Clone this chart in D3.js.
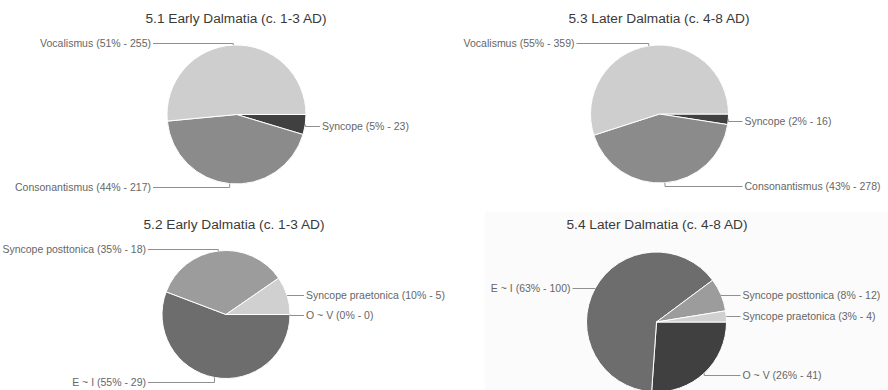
<!DOCTYPE html>
<html>
<head>
<meta charset="utf-8">
<script src="https://cdn.jsdelivr.net/npm/d3@7/dist/d3.min.js"></script>
<style>
  html, body { margin: 0; padding: 0; background: #ffffff; }
  svg { display: block; }
  text { font-family: Arial, "Liberation Sans", sans-serif; }
</style>
</head>
<body>
<svg id="chart" width="888" height="390"></svg>
<script>
// ---------------- DATA ----------------
const titles = [
  "5.1 Early Dalmatia (c. 1-3 AD)",
  "5.3 Later Dalmatia (c. 4-8 AD)",
  "5.2 Early Dalmatia (c. 1-3 AD)",
  "5.4 Later Dalmatia (c. 4-8 AD)"
];

// Charts 5.1 / 5.3 (slice order clockwise from 3 o'clock)
const catsA = ["Syncope", "Consonantismus", "Vocalismus"];
const valuesEarlyA = [23, 217, 255];
const pctEarlyA = [5, 44, 51];
const valuesLaterA = [16, 278, 359];
const pctLaterA = [2, 43, 55];

// Charts 5.2 / 5.4
const catsB = ["O ~ V", "E ~ I", "Syncope posttonica", "Syncope praetonica"];
const valuesEarlyB = [0, 29, 18, 5];
const pctEarlyB = [0, 55, 35, 10];
const valuesLaterB = [41, 100, 12, 4];
const pctLaterB = [26, 63, 8, 3];

// ---------------- STYLE / LAYOUT ----------------
const colorScale = d3.scaleOrdinal()
  .domain(["Syncope", "Consonantismus", "Vocalismus", "O ~ V", "E ~ I", "Syncope posttonica", "Syncope praetonica"])
  .range(["#404040", "#8b8b8b", "#cecece", "#404040", "#6d6d6d", "#9c9c9c", "#d0d0d0"]);

const panels = [
  { title: titles[0], cats: catsA, values: valuesEarlyA, pcts: pctEarlyA, cx: 236.5, cy: 114.5, r: 69.5, tx: 236, ty: 23 },
  { title: titles[1], cats: catsA, values: valuesLaterA, pcts: pctLaterA, cx: 659.5, cy: 114,   r: 69,   tx: 659, ty: 23 },
  { title: titles[2], cats: catsB, values: valuesEarlyB, pcts: pctEarlyB, cx: 226,   cy: 314.5, r: 64,   tx: 234, ty: 229 },
  { title: titles[3], cats: catsB, values: valuesLaterB, pcts: pctLaterB, cx: 656.5, cy: 322,   r: 70,   tx: 657, ty: 229 }
];

const svg = d3.select("#chart");

// faint panel background behind chart 5.4
svg.append("rect")
  .attr("x", 485).attr("y", 212).attr("width", 403).attr("height", 178)
  .attr("fill", "#fbfbfb");

const pie = d3.pie()
  .sort(null)
  .value(d => d.value)
  .startAngle(Math.PI / 2)
  .endAngle(Math.PI / 2 + 2 * Math.PI);

panels.forEach(p => {
  const g = svg.append("g");
  const data = p.cats.map((c, i) => ({ cat: c, value: p.values[i], pct: p.pcts[i] }));
  const arcs = pie(data);
  const arc = d3.arc().innerRadius(0).outerRadius(p.r);

  // title
  g.append("text")
    .attr("x", p.tx).attr("y", p.ty)
    .attr("text-anchor", "middle")
    .attr("font-size", 13.7)
    .attr("fill", "#3a3a3a")
    .text(p.title);

  const pg = g.append("g").attr("transform", `translate(${p.cx},${p.cy})`);
  pg.selectAll("path.slice")
    .data(arcs.filter(a => a.data.value > 0))
    .join("path")
    .attr("class", "slice")
    .attr("d", arc)
    .attr("fill", d => colorScale(d.data.cat))
    .attr("stroke", "#ffffff")
    .attr("stroke-width", 1);

  // labels with leader lines
  arcs.forEach(a => {
    const mid = (a.startAngle + a.endAngle) / 2;
    const s = Math.sin(mid), c = Math.cos(mid);
    const ax = p.cx + p.r * s;
    const ay = p.cy - p.r * c;
    const right = s >= 0;
    const edgeX = right ? p.cx + p.r + 14 : p.cx - p.r - 14;
    let ly;
    const pts = [[ax, ay]];
    if (Math.abs(c) > 0.85) {
      ly = c > 0 ? p.cy - p.r - 2 : p.cy + p.r + 3;
      pts.push([ax, ly]);
    } else {
      ly = ay + (c < 0 ? 1.5 : 0);
      pts.push([ax, ly]);
    }
    pts.push([edgeX, ly]);
    const yy = Math.round(ly) + 0.5;
    const line = d3.line().x(d => d[0]).y((d, i) => i === 0 ? d[1] : yy);
    g.append("path")
      .attr("d", line(pts))
      .attr("fill", "none")
      .attr("stroke", "#8f8f8f")
      .attr("stroke-width", 1);
    g.append("text")
      .attr("x", right ? edgeX + 2 : edgeX - 2)
      .attr("y", yy)
      .attr("dy", "0.35em")
      .attr("text-anchor", right ? "start" : "end")
      .attr("font-size", 10.5)
      .attr("fill", "#666666")
      .text(`${a.data.cat} (${a.data.pct}% - ${a.data.value})`);
  });
});
</script>
</body>
</html>
